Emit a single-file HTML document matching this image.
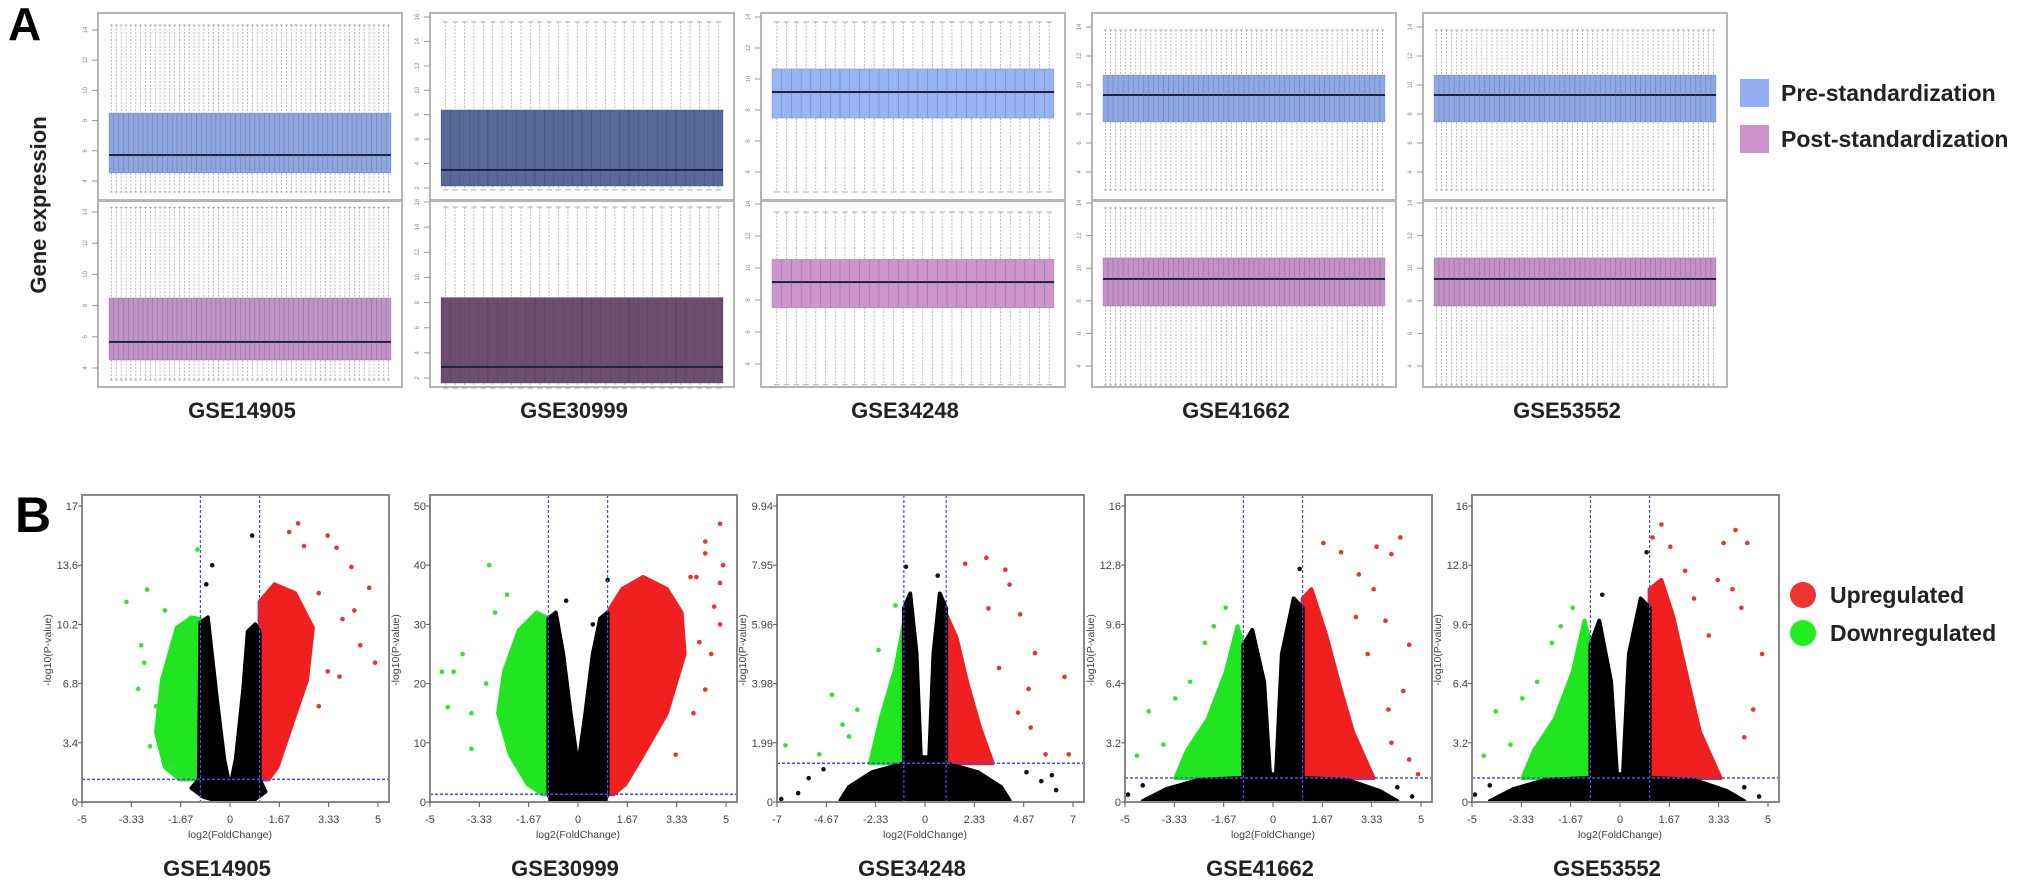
<!DOCTYPE html>
<html><head><meta charset="utf-8"><style>
html,body{margin:0;padding:0;background:#fff;}
svg{display:block;font-family:"Liberation Sans",Arial,sans-serif;}
</style></head><body>
<svg id="fig" width="2031" height="891" viewBox="0 0 2031 891" xmlns="http://www.w3.org/2000/svg">
<text x="8" y="40" font-size="46" font-weight="bold">A</text>
<text x="15" y="532" font-size="50" font-weight="bold">B</text>
<text transform="translate(46,205) rotate(-90)" text-anchor="middle" font-size="22" font-weight="bold" fill="#222">Gene expression</text>
<g>
<rect x="1740" y="79" width="29" height="28" fill="#92adf2"/>
<text x="1781" y="101" font-size="23" font-weight="bold" fill="#222">Pre-standardization</text>
<rect x="1740" y="125" width="29" height="28" fill="#cc92cc"/>
<text x="1781" y="147" font-size="23" font-weight="bold" fill="#222">Post-standardization</text>
</g>
<g>
<circle cx="1803" cy="595" r="13" fill="#ee3333"/>
<text x="1830" y="603" font-size="23" font-weight="bold" fill="#222">Upregulated</text>
<circle cx="1803" cy="633" r="13" fill="#22ee22"/>
<text x="1830" y="641" font-size="23" font-weight="bold" fill="#222">Downregulated</text>
</g>
</svg>
<script>
// ---------- Panel A: boxplot data ----------
const datasets = ["GSE14905","GSE30999","GSE34248","GSE41662","GSE53552"];
const sampleCounts = [58, 30, 29, 56, 56];
const boxTickLabels = [4,6,8,10,12,14];
const boxTickLabels2 = [2,4,6,8,10,12,14,16];
// pre-standardization [whiskerLo, q1, median, q3, whiskerHi]
const preStats = [
  [3.27,4.53,5.72,8.5,14.33],
  [1.84,2.16,3.48,8.39,15.6],
  [2.71,7.48,9.16,10.65,13.68],
  [2.76,7.45,9.31,10.69,13.8],
  [2.76,7.45,9.31,10.69,13.8]
];
// post-standardization
const postStats = [
  [3.23,4.51,5.67,8.49,14.3],
  [1.2,1.6,2.88,8.4,15.6],
  [2.7,7.52,9.12,10.54,13.5],
  [2.83,7.68,9.34,10.63,13.7],
  [2.83,7.68,9.34,10.63,13.7]
];
const preColors = ["#8ea6e0","#56699a","#98b4f2","#8ea8e6","#8ea8e6"];
const postColors = ["#c192c8","#6e4c70","#cc96cc","#c490c6","#c490c6"];

// ---------- Panel B: volcano data (data coordinates) ----------
const xTickLabels = [["-5","-3.33","-1.67","0","1.67","3.33","5"],["-5","-3.33","-1.67","0","1.67","3.33","5"],["-7","-4.67","-2.33","0","2.33","4.67","7"],["-5","-3.33","-1.67","0","1.67","3.33","5"],["-5","-3.33","-1.67","0","1.67","3.33","5"]];
const yTickLabels = [["0","3.4","6.8","10.2","13.6","17"],["0","10","20","30","40","50"],["0","1.99","3.98","5.96","7.95","9.94"],["0","3.2","6.4","9.6","12.8","16"],["0","3.2","6.4","9.6","12.8","16"]];
const xMaxTick = [5,5,7,5,5];
const yMaxTick = [17,50,9.94,16,16];
const fcCut = 1, pCut = 1.3;
const blackCore = [
 [[-1.0,10.3],[-0.75,10.6],[-0.45,6],[-0.2,2.5],[0,0.8],[0.2,2.5],[0.45,6.5],[0.6,9.8],[0.85,10.2],[1.0,9.8],[1.0,1.3],[1.2,0.6],[0.8,0.1],[0.2,0],[-0.3,0],[-0.9,0.3],[-1.3,0.8],[-1.05,1.3]],
 [[-1,31],[-0.75,32],[-0.5,25],[-0.25,15],[0,6],[0.25,15],[0.5,25],[0.75,31],[1,32],[1,1.3],[0.9,0],[-0.9,0],[-1,1.3]],
 [[-1,6.5],[-0.7,7],[-0.4,5],[-0.2,1.5],[0.2,1.5],[0.4,5],[0.7,7],[1,6.5],[1,1.3],[2.5,1.0],[3.6,0.5],[4.0,0.05],[-4.0,0.05],[-3.6,0.5],[-2.5,1.0],[-1,1.3]],
 [[-1,8.5],[-0.7,9.3],[-0.3,6.5],[-0.1,1.5],[0.1,1.5],[0.3,8],[0.7,11],[1,10.5],[1,1.3],[2.5,1.2],[3.6,0.6],[4.2,0.05],[-4.4,0.05],[-3.6,0.7],[-2.5,1.2],[-1,1.3]],
 [[-1,8.5],[-0.7,9.8],[-0.3,6.5],[-0.1,1.5],[0.1,1.5],[0.3,8],[0.7,11],[1,10.5],[1,1.3],[2.5,1.2],[3.6,0.6],[4.2,0.05],[-4.4,0.05],[-3.6,0.7],[-2.5,1.2],[-1,1.3]]
];
const greenCore = [
 [[-1,1.3],[-1,10.5],[-1.3,10.6],[-1.8,10],[-2.3,7],[-2.5,4],[-2.2,2],[-1.7,1.3]],
 [[-1,1.3],[-1,31],[-1.4,32],[-2.0,29],[-2.5,22],[-2.7,15],[-2.3,8],[-1.7,3],[-1.2,1.3]],
 [[-1,1.3],[-1,6],[-1.4,4.5],[-2.1,2.8],[-2.6,1.3]],
 [[-1,1.3],[-1,8.5],[-1.2,9.5],[-1.6,7],[-2.2,4.5],[-2.9,2.8],[-3.3,1.3]],
 [[-1,1.3],[-1,8.5],[-1.2,9.8],[-1.6,7],[-2.2,4.5],[-2.9,2.8],[-3.3,1.3]]
];
const redCore = [
 [[1,1.3],[1,11.5],[1.5,12.5],[2.2,12],[2.8,10],[2.6,7],[2.0,4],[1.6,2],[1.3,1.3]],
 [[1,1.3],[1,32],[1.5,36],[2.2,38],[3,36],[3.5,32],[3.6,25],[3.0,15],[2.2,8],[1.6,3],[1.2,1.3]],
 [[1,1.3],[1,6.3],[1.5,5.5],[2.0,4],[2.6,2.5],[3.2,1.3]],
 [[1,1.3],[1,11],[1.3,11.5],[1.8,9],[2.3,6],[2.7,3.8],[3.2,2],[3.4,1.3]],
 [[1,1.3],[1,11.5],[1.4,12],[1.8,10],[2.3,6.5],[2.7,3.8],[3.2,2],[3.4,1.3]]
];
const greenOut = [
 [[-3.5,11.5],[-2.8,12.2],[-2.2,11],[-3.0,9],[-3.1,6.5],[-2.5,5.5],[-2.0,2],[-1.1,14.5],[-2.7,3.2],[-2.9,8]],
 [[-3.0,40],[-2.4,35],[-4.6,22],[-4.4,16],[-3.9,25],[-3.6,15],[-3.6,9],[-2.8,32],[-3.1,20],[-4.2,22]],
 [[-6.6,1.9],[-4.4,3.6],[-3.9,2.6],[-3.6,2.2],[-5.0,1.6],[-2.2,5.1],[-3.2,3.1],[-1.4,6.6]],
 [[-1.6,10.5],[-2.3,8.6],[-3.3,5.6],[-4.2,4.9],[-4.6,2.5],[-3.7,3.1],[-2.8,6.5],[-2.0,9.5]],
 [[-1.6,10.5],[-2.3,8.6],[-3.3,5.6],[-4.2,4.9],[-4.6,2.5],[-3.7,3.1],[-2.8,6.5],[-2.0,9.5]]
];
const redOut = [
 [[2,15.5],[2.5,14.7],[3.3,15.3],[3.6,14.6],[4.1,13.5],[4.7,12.3],[4.9,8],[4.2,11],[3.0,12],[3.8,10.5],[3.3,7.5],[3.7,7.2],[3.0,5.5],[2.3,16],[4.4,9]],
 [[4.8,47],[4.3,44],[4.3,42],[4.9,40],[3.8,38],[4.0,38],[4.8,37],[4.6,33],[4.5,25],[4.3,19],[3.9,15],[3.3,8],[4.8,30],[4.1,27]],
 [[2.9,8.2],[1.9,8.0],[3.8,7.8],[4.0,7.3],[5.2,5.0],[6.6,4.2],[4.9,3.8],[5.7,1.6],[6.8,1.6],[4.4,3.0],[3.0,6.5],[4.5,6.3],[5.0,2.5],[3.5,4.5]],
 [[1.7,14],[2.3,13.5],[3.5,13.8],[4.3,14.3],[4.0,13.4],[2.9,12.3],[3.4,11.5],[4.6,8.5],[4.4,6],[4.0,3.2],[4.6,2.3],[3.8,9.8],[2.8,10],[3.9,5.0],[4.9,1.5],[3.2,8.0]],
 [[1.4,15],[1.7,13.8],[3.9,14.7],[4.3,14],[3.5,14],[3.8,11.5],[4.1,10.5],[4.8,8],[4.5,5],[4.2,3.5],[3.3,12],[2.5,11],[1.1,14.3],[3.0,9],[2.2,12.5]]
];
const blackOut = [
 [[-0.6,13.6],[0.75,15.3],[-0.8,12.5]],
 [[-0.4,34],[0.5,30],[1.0,37.5]],
 [[-5.5,0.8],[-6,0.3],[-6.8,0.1],[5.5,0.7],[6.0,0.9],[6.2,0.4],[-4.8,1.1],[4.8,1.0],[-0.9,7.9],[0.6,7.6]],
 [[0.9,12.6],[-4.9,0.4],[-4.4,0.9],[4.2,0.8],[4.7,0.3]],
 [[0.9,13.5],[-0.6,11.2],[-4.9,0.4],[-4.4,0.9],[4.2,0.8],[4.7,0.3]]
];

const NS = "http://www.w3.org/2000/svg";
const svg = document.getElementById("fig");
function mk(tag, attrs, parent){
  const e = document.createElementNS(NS, tag);
  for (const k in attrs) e.setAttribute(k, attrs[k]);
  (parent||svg).appendChild(e);
  return e;
}
function lin(d0,d1,r0,r1){ return v => r0 + (v-d0)*(r1-r0)/(d1-d0); }

// ---------- draw panel A ----------
const aLeft = [98,430,761,1092,1423], aW = 304;
// subpanel geometry: [frameTop, frameBottom, lowTickPx, highTickPx]
const topGeom = [[13,200,181,30],[13,200,188,17],[13,200,172,17],[13,200,172,27],[13,200,172,27]];
const botGeom = [[201,387,368,212],[201,387,378,202],[201,387,364,204],[201,387,366,203],[201,387,366,203]];
function drawBoxPanel(i, geom, stats, color, kind){
  const g = mk("g", {});
  
  
  const L = aLeft[i];
  const ticks = (i===1) ? boxTickLabels2 : boxTickLabels;
  const y = lin(ticks[0], ticks[ticks.length-1], geom[2], geom[3]);
  const fr = mk("rect", {x:L, y:geom[0], width:aW, height:geom[1]-geom[0], fill:"none", stroke:"#b5b5b5", "stroke-width":2}, g);
  
  
  ticks.forEach(t => {
    const ty = y(t);
    mk("line", {x1:L-6, x2:L, y1:ty, y2:ty, stroke:"#999", "stroke-width":1}, g);
    const tl = mk("text", {transform:"translate("+(L-11)+","+ty+") rotate(-90)", "text-anchor":"middle", "font-size":6, fill:"#888"}, g);
    tl.textContent = t;
    
    
  });
  const n = sampleCounts[i];
  const x0 = L + 11, x1 = L + aW - 11;
  const w = (x1 - x0) / n;
  const s = stats[i];
  const dark = (i===1) ? "#2a3050" : "#555a78";
  for (let k=0;k<n;k++){
    const cx = x0 + (k+0.5)*w;
    mk("line", {x1:cx, x2:cx, y1:y(s[4]), y2:y(s[3]), stroke:"#aaa", "stroke-width":0.8, "stroke-dasharray":"2,1.5"}, g);
    mk("line", {x1:cx, x2:cx, y1:y(s[1]), y2:y(s[0]), stroke:"#aaa", "stroke-width":0.8, "stroke-dasharray":"2,1.5"}, g);
    mk("line", {x1:cx-w*0.3, x2:cx+w*0.3, y1:y(s[4]), y2:y(s[4]), stroke:"#999", "stroke-width":0.8}, g);
    mk("line", {x1:cx-w*0.3, x2:cx+w*0.3, y1:y(s[0]), y2:y(s[0]), stroke:"#999", "stroke-width":0.8}, g);
    const b = mk("rect", {x:cx-w/2, y:y(s[3]), width:w, height:y(s[1])-y(s[3]), fill:color, stroke:dark, "stroke-width":0.4, "stroke-opacity":0.6}, g);
    
    
    mk("line", {x1:cx-w/2, x2:cx+w/2, y1:y(s[2]), y2:y(s[2]), stroke:"#1e2240", "stroke-width":2}, g);
  }
}
for (let i=0;i<5;i++){
  drawBoxPanel(i, topGeom[i], preStats, preColors[i], "pre");
  drawBoxPanel(i, botGeom[i], postStats, postColors[i], "post");
  const t = mk("text", {x:aLeft[i]+aW/2 - 8, y:418, "text-anchor":"middle", "font-size":22, "font-weight":"bold", fill:"#222"});
  t.textContent = datasets[i];
  
  
}

// ---------- draw panel B ----------
const bLeft = [82,430,777,1125,1472], bW = 307, bTop = 495, bBot = 802;
function pts(arr, xs, ys){ return arr.map(p => xs(p[0]).toFixed(1)+","+ys(p[1]).toFixed(1)).join(" "); }
for (let i=0;i<5;i++){
  const L = bLeft[i];
  const g = mk("g", {});
  
  
  const xs = lin(-xMaxTick[i], xMaxTick[i], L, L+296);
  const ys = lin(0, yMaxTick[i], bBot, 506);
  const cp = mk("clipPath", {id:"clip"+i}, g);
  mk("rect", {x:L, y:bTop, width:bW, height:bBot-bTop}, cp);
  const inner = mk("g", {"clip-path":"url(#clip"+i+")"}, g);
  // cores
  const gc = mk("polygon", {points:pts(greenCore[i],xs,ys), fill:"#22e522", stroke:"#22e522", "stroke-width":4, "stroke-linejoin":"round"}, inner);
  
  
  const rc = mk("polygon", {points:pts(redCore[i],xs,ys), fill:"#f02020", stroke:"#f02020", "stroke-width":4, "stroke-linejoin":"round"}, inner);
  
  
  const bc = mk("polygon", {points:pts(blackCore[i],xs,ys), fill:"#000", stroke:"#000", "stroke-width":4, "stroke-linejoin":"round"}, inner);
  
  
  greenOut[i].forEach(p => {
    const c = mk("circle", {cx:xs(p[0]), cy:ys(p[1]), r:2.3, fill:"#33e033"}, inner);
    
    
  });
  redOut[i].forEach(p => {
    const c = mk("circle", {cx:xs(p[0]), cy:ys(p[1]), r:2.3, fill:"#f03030"}, inner);
    
    
  });
  blackOut[i].forEach(p => {
    const c = mk("circle", {cx:xs(p[0]), cy:ys(p[1]), r:2.3, fill:"#111"}, inner);
    
    
  });
  // threshold lines
  [-fcCut, fcCut].forEach(v => {
    const l = mk("line", {x1:xs(v), x2:xs(v), y1:bTop, y2:bBot, stroke:"#4a4af0", "stroke-width":1.2, "stroke-dasharray":"3,2"}, inner);
    
    
  });
  const hl = mk("line", {x1:L, x2:L+bW, y1:ys(pCut), y2:ys(pCut), stroke:"#4a4af0", "stroke-width":1.5, "stroke-dasharray":"3,2"}, inner);
  
  
  const fr = mk("rect", {x:L, y:bTop, width:bW, height:bBot-bTop, fill:"none", stroke:"#888", "stroke-width":2}, g);
  
  
  // ticks
  const xl = xTickLabels[i], yl = yTickLabels[i];
  xl.forEach((lab, k) => {
    const v = -xMaxTick[i] + k*(2*xMaxTick[i])/(xl.length-1);
    const tx = xs(v);
    mk("line", {x1:tx, x2:tx, y1:bBot, y2:bBot+5, stroke:"#555", "stroke-width":1}, g);
    const t = mk("text", {x:tx, y:bBot+21, "text-anchor":"middle", "font-size":11, fill:"#444"}, g);
    t.textContent = lab;
    
    
  });
  yl.forEach((lab, k) => {
    const v = k*yMaxTick[i]/(yl.length-1);
    const ty = ys(v);
    mk("line", {x1:L-4, x2:L, y1:ty, y2:ty, stroke:"#555", "stroke-width":1}, g);
    const t = mk("text", {x:L-4, y:ty+4, "text-anchor":"end", "font-size":11, fill:"#444"}, g);
    t.textContent = lab;
    
    
  });
  const xt = mk("text", {x:L+148, y:bBot+36, "text-anchor":"middle", "font-size":10.5, fill:"#444"}, g);
  xt.textContent = "log2(FoldChange)";
  
  
  const yt = mk("text", {transform:"translate("+(L-31)+",650) rotate(-90)", "text-anchor":"middle", "font-size":10.5, fill:"#444"}, g);
  yt.textContent = "-log10(P-value)";
  
  
  const dl = mk("text", {x:L+135, y:876, "text-anchor":"middle", "font-size":22, "font-weight":"bold", fill:"#222"});
  dl.textContent = datasets[i];
  
  
}
</script>
</body></html>
